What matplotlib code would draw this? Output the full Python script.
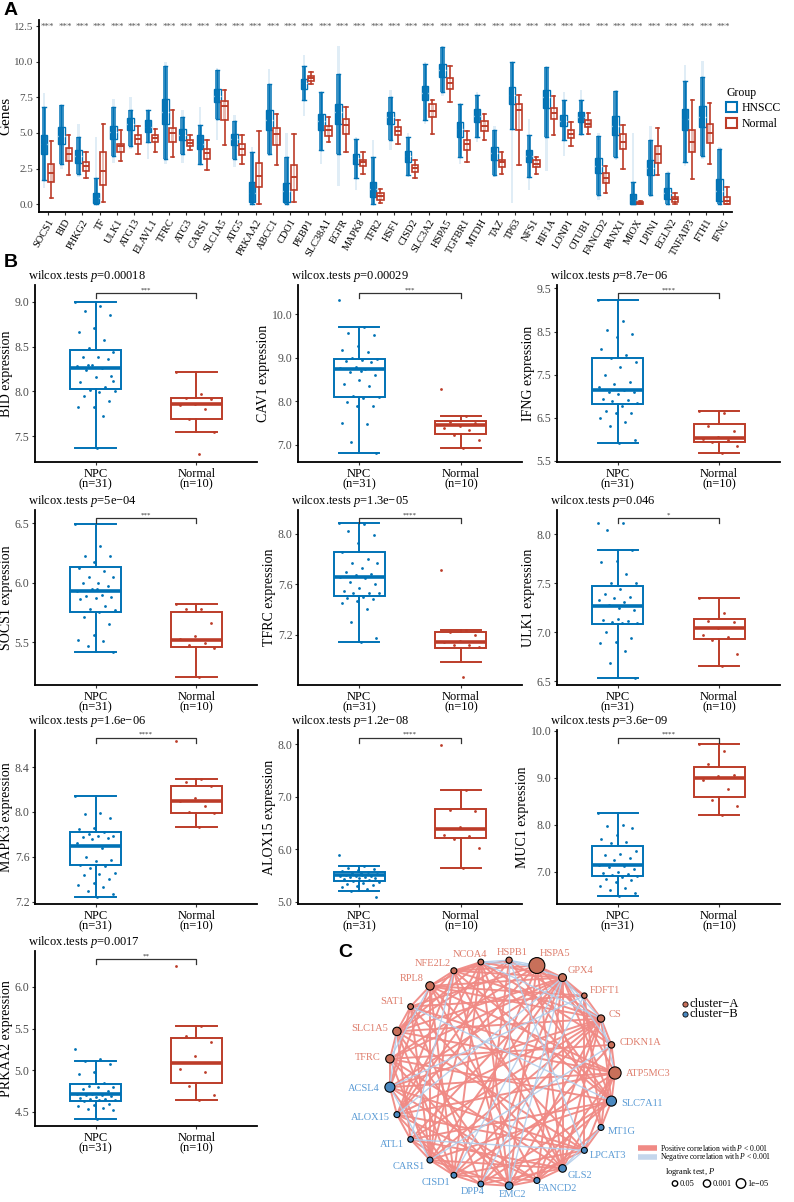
import matplotlib
matplotlib.use("Agg")
import matplotlib.pyplot as plt
import numpy as np
from matplotlib.patches import Patch

plt.rcParams['font.family'] = ['Liberation Serif', 'DejaVu Serif']
plt.rcParams['mathtext.fontset'] = 'custom'
plt.rcParams['mathtext.rm'] = 'Liberation Serif'
plt.rcParams['mathtext.it'] = 'Liberation Serif:italic'

BLUE = "#0072B5"
RED = "#BC3C29"
GRAY = "#4D4D4D"

# ---------------------------------------------------------------
# Panel A data (HNSCC vs Normal, box summaries)
# ---------------------------------------------------------------
genes = ["SOCS1", "BID", "PHKG2", "TF", "ULK1", "ATG13", "ELAVL1", "TFRC", "ATG3", "CARS1",
         "SLC1A5", "ATG5", "PRKAA2", "ABCC1", "CDO1", "PEBP1", "SLC38A1", "EGFR", "MAPK8", "TFR2",
         "HSF1", "CISD2", "SLC3A2", "HSPA5", "TGFBR1", "MTDH", "TAZ", "TP63", "NFS1", "HIF1A",
         "LONP1", "OTUB1", "FANCD2", "PANX1", "MIOX", "LPIN1", "EGLN2", "TNFAIP3", "FTH1", "IFNG"]

hnscc_wlo = [1.7, 2.8, 2.1, 0.0, 3.4, 4.1, 4.4, 3.2, 3.55, 2.85, 6.0, 3.2, 0.0, 3.55, 0.0, 7.3, 3.78, 3.55, 1.8, 0.0,
             4.49, 2.03, 5.89, 7.87, 3.32, 4.72, 2.03, 5.3, 1.92, 4.72, 4.49, 4.95, 0.63, 3.32, 0.0, 0.63, 0.0, 2.97, 3.36, 0.0]
hnscc_q1 = [3.55, 4.25, 2.92, 0.05, 4.6, 5.19, 5.07, 5.65, 4.49, 3.9, 7.17, 4.14, 0.16, 5.19, 0.16, 8.1, 5.23, 5.65, 2.85, 0.51,
            5.65, 2.97, 7.29, 8.93, 4.72, 5.77, 3.08, 7.06, 2.97, 6.78, 5.47, 5.77, 2.15, 4.84, 0.0, 2.03, 0.35, 5.19, 5.42, 0.23]
hnscc_med = [4.2, 4.8, 3.4, 0.4, 5.05, 5.6, 5.45, 6.5, 4.85, 4.25, 7.6, 4.6, 0.8, 5.9, 0.9, 8.5, 5.85, 6.5, 3.25, 1.05,
             6.1, 3.4, 7.8, 9.4, 5.3, 6.2, 3.6, 7.7, 3.4, 7.5, 5.85, 6.1, 2.7, 5.5, 0.3, 2.55, 0.75, 5.95, 6.1, 0.95]
hnscc_q3 = [4.88, 5.42, 3.78, 0.75, 5.47, 6.05, 5.93, 7.36, 5.3, 4.84, 8.1, 4.9, 1.57, 6.59, 1.5, 8.81, 6.36, 7.06, 3.55, 1.57,
            6.47, 3.74, 8.34, 9.86, 5.77, 6.7, 4.02, 8.22, 3.78, 7.99, 6.24, 6.47, 3.27, 6.17, 0.68, 3.08, 1.14, 6.7, 6.92, 1.73]
hnscc_whi = [6.8, 7.0, 4.7, 1.8, 6.8, 6.6, 6.6, 9.74, 6.12, 5.54, 9.46, 5.84, 3.67, 8.46, 3.32, 9.74, 7.87, 9.16, 4.6, 3.32,
             7.52, 4.72, 9.86, 11.03, 7.06, 7.64, 5.19, 9.98, 4.84, 9.63, 7.29, 7.29, 4.77, 7.94, 1.57, 4.49, 2.15, 8.69, 8.97, 3.9]
hnscc_min = [1.1, 2.5, 1.9, 0.0, 2.9, 3.9, 3.2, 2.8, 2.9, 2.8, 4.5, 2.6, 0.0, 3.4, 0.0, 6.2, 2.8, 1.3, 1.0, 0.0,
             3.8, 1.9, 5.6, 7.6, 2.8, 4.4, 1.9, 0.1, 1.0, 2.3, 3.4, 4.8, 0.3, 3.1, 0.0, 0.5, 0.0, 2.7, 3.2, 0.0]
hnscc_max = [7.8, 7.0, 5.6, 4.7, 7.4, 7.5, 6.6, 10.0, 6.6, 6.8, 9.6, 6.3, 4.0, 9.5, 5.0, 10.5, 7.9, 11.1, 4.7, 4.5,
             8.0, 5.0, 10.0, 11.1, 7.1, 7.9, 5.5, 10.0, 6.0, 9.6, 7.9, 8.0, 5.0, 8.0, 5.0, 5.5, 2.3, 9.8, 10.1, 4.0]

normal_wlo = [0.4, 2.03, 1.85, 0.16, 3.01, 3.5, 3.67, 3.32, 3.78, 2.43, 4.14, 2.85, 0.0, 2.73, 0.16, 8.46, 4.37, 3.67, 2.08, 0.09,
              4.25, 1.8, 4.95, 7.17, 2.97, 4.49, 2.1, 2.78, 2.1, 4.84, 4.09, 4.95, 0.75, 2.5, 0.0, 2.03, 0.0, 1.73, 2.85, 0.0]
normal_q1 = [1.57, 3.04, 2.31, 1.33, 3.67, 4.2, 4.37, 4.37, 4.11, 3.2, 5.93, 3.43, 1.21, 4.14, 0.98, 8.69, 4.77, 4.95, 2.69, 0.28,
             4.88, 2.27, 6.12, 8.1, 3.78, 5.12, 2.62, 5.19, 2.62, 5.96, 4.67, 5.42, 1.5, 3.9, 0.0, 2.92, 0.12, 3.67, 4.3, 0.0]
normal_med = [2.2, 3.5, 2.65, 2.3, 4.05, 4.55, 4.65, 5.0, 4.3, 3.6, 6.9, 3.85, 2.0, 4.9, 1.9, 8.85, 5.2, 5.55, 2.95, 0.55,
              5.15, 2.55, 6.55, 8.5, 4.2, 5.5, 2.95, 6.6, 2.85, 6.4, 4.95, 5.65, 1.85, 4.4, 0.05, 3.55, 0.35, 4.4, 5.0, 0.2]
normal_q3 = [2.85, 3.97, 2.97, 3.67, 4.25, 4.84, 4.84, 5.35, 4.49, 3.9, 7.22, 4.2, 2.9, 5.35, 2.78, 9.02, 5.47, 6.0, 3.13, 0.75,
             5.42, 2.73, 7.01, 8.88, 4.49, 5.82, 3.13, 7.06, 3.08, 6.78, 5.19, 5.89, 2.2, 4.95, 0.14, 4.09, 0.51, 5.23, 5.65, 0.51]
normal_whi = [4.45, 4.88, 3.67, 5.65, 5.19, 5.47, 5.3, 6.59, 4.84, 4.53, 8.04, 4.84, 5.12, 6.36, 4.95, 9.28, 6.12, 6.82, 3.67, 1.03,
              5.93, 3.13, 7.34, 9.74, 5.12, 6.36, 3.67, 7.69, 3.32, 7.57, 5.77, 6.4, 2.66, 5.58, 0.23, 5.35, 0.79, 7.34, 7.1, 1.17]

# ---------------------------------------------------------------
# Panel B data (NPC n=31 vs Normal n=10)
# box = (lower whisker, Q1, median, Q3, upper whisker)
# ---------------------------------------------------------------
bid_npc_box = (7.37, 8.03, 8.26, 8.46, 9.0)
bid_npc = [9.0, 8.95, 8.9, 8.86, 8.71, 8.66, 8.58, 8.49, 8.44, 8.39, 8.38, 8.36, 8.29, 8.28, 8.26, 8.24,
           8.17, 8.16, 8.11, 8.05, 8.01, 8.0, 7.99, 7.95, 7.89, 7.82, 7.82, 7.73, 8.3, 8.12, 7.37]
bid_nor_box = (7.55, 7.69, 7.86, 7.93, 8.22)
bid_nor = [8.22, 7.97, 7.93, 7.91, 7.86, 7.85, 7.8, 7.69, 7.55, 7.3]

cav1_npc_box = (6.82, 8.10, 8.74, 8.97, 9.70)
cav1_npc = [10.33, 9.70, 9.57, 9.52, 9.27, 9.17, 9.13, 9.0, 8.98, 8.95, 8.93, 8.9, 8.78, 8.77, 8.75, 8.68,
            8.6, 8.5, 8.4, 8.35, 8.13, 8.1, 8.07, 7.98, 7.9, 7.9, 7.5, 7.48, 7.08, 6.82, 8.7]
cav1_nor_box = (6.93, 7.26, 7.45, 7.55, 7.67)
cav1_nor = [8.29, 7.67, 7.53, 7.5, 7.43, 7.38, 7.35, 7.22, 7.12, 6.93]

ifng_npc_box = (5.9, 6.81, 7.15, 7.88, 9.23)
ifng_npc = [9.23, 8.74, 8.53, 8.44, 8.38, 8.09, 7.95, 7.88, 7.8, 7.67, 7.49, 7.33, 7.29, 7.2, 7.14, 7.1,
            7.1, 7.05, 6.93, 6.92, 6.88, 6.83, 6.77, 6.66, 6.61, 6.6, 6.5, 6.41, 6.3, 5.98, 5.9]
ifng_nor_box = (5.69, 5.94, 6.02, 6.35, 6.65)
ifng_nor = [6.65, 6.61, 6.3, 6.2, 6.05, 6.0, 5.97, 5.93, 5.85, 5.69]

socs1_npc_box = (5.42, 5.75, 5.93, 6.13, 6.49)
socs1_npc = [6.49, 6.31, 6.22, 6.22, 6.17, 6.12, 6.1, 6.05, 6.05, 6.0, 6.0, 5.97, 5.95, 5.93, 5.9, 5.89,
             5.88, 5.87, 5.86, 5.8, 5.78, 5.77, 5.75, 5.71, 5.65, 5.56, 5.52, 5.51, 5.47, 5.42, 5.95]
socs1_nor_box = (5.21, 5.46, 5.52, 5.75, 5.82)
socs1_nor = [5.82, 5.78, 5.78, 5.66, 5.55, 5.53, 5.49, 5.48, 5.45, 5.21]

tfrc_npc_box = (7.14, 7.51, 7.66, 7.86, 8.09)
tfrc_npc = [8.09, 8.08, 8.02, 7.99, 7.93, 7.86, 7.8, 7.77, 7.77, 7.73, 7.7, 7.68, 7.67, 7.66, 7.65, 7.62,
            7.6, 7.57, 7.55, 7.53, 7.53, 7.53, 7.5, 7.49, 7.48, 7.47, 7.45, 7.4, 7.3, 7.17, 7.14]
tfrc_nor_box = (6.98, 7.09, 7.14, 7.22, 7.24)
tfrc_nor = [7.71, 7.24, 7.22, 7.2, 7.15, 7.14, 7.12, 7.12, 7.1, 6.86]

ulk1_npc_box = (6.53, 7.08, 7.27, 7.47, 7.84)
ulk1_npc = [8.12, 8.12, 8.05, 7.84, 7.73, 7.72, 7.6, 7.5, 7.5, 7.44, 7.39, 7.36, 7.35, 7.33, 7.31, 7.28,
            7.23, 7.14, 7.12, 7.11, 7.1, 7.09, 7.09, 7.0, 6.94, 6.9, 6.89, 6.81, 6.68, 6.53, 7.25]
ulk1_nor_box = (6.65, 6.93, 7.04, 7.13, 7.35)
ulk1_nor = [7.35, 7.2, 7.11, 7.1, 7.04, 6.97, 6.95, 6.92, 6.78, 6.65]

mapk3_npc_box = (7.24, 7.53, 7.70, 7.82, 8.14)
mapk3_npc = [8.14, 7.99, 7.98, 7.95, 7.86, 7.85, 7.82, 7.8, 7.79, 7.79, 7.78, 7.77, 7.76, 7.72, 7.68, 7.6,
             7.57, 7.56, 7.53, 7.52, 7.5, 7.46, 7.45, 7.44, 7.4, 7.37, 7.35, 7.33, 7.3, 7.27, 7.24]
mapk3_nor_box = (7.87, 7.99, 8.10, 8.23, 8.29)
mapk3_nor = [8.63, 8.29, 8.27, 8.23, 8.12, 8.1, 8.05, 8.0, 7.99, 7.87]

alox15_npc_box = (5.2, 5.40, 5.51, 5.57, 5.68)
alox15_npc = [5.89, 5.68, 5.65, 5.62, 5.6, 5.58, 5.57, 5.55, 5.53, 5.52, 5.51, 5.5, 5.5, 5.49, 5.48, 5.47,
              5.46, 5.45, 5.44, 5.42, 5.4, 5.38, 5.35, 5.34, 5.33, 5.3, 5.28, 5.25, 5.2, 5.09, 5.55]
alox15_nor_box = (5.65, 6.22, 6.38, 6.76, 7.13)
alox15_nor = [7.99, 7.13, 6.75, 6.73, 6.43, 6.28, 6.25, 6.2, 6.02, 5.65]

muc1_npc_box = (6.48, 6.9, 7.14, 7.54, 8.26)
muc1_npc = [8.26, 8.0, 7.97, 7.93, 7.78, 7.7, 7.63, 7.6, 7.45, 7.38, 7.35, 7.3, 7.25, 7.15, 7.12, 7.1,
            7.05, 7.0, 6.97, 6.95, 6.93, 6.9, 6.88, 6.85, 6.83, 6.78, 6.7, 6.65, 6.6, 6.55, 6.48]
muc1_nor_box = (8.2, 8.59, 9.0, 9.24, 9.72)
muc1_nor = [9.72, 9.57, 9.29, 9.05, 9.03, 8.96, 8.76, 8.53, 8.41, 8.2]

prkaa2_npc_box = (4.42, 4.63, 4.71, 4.84, 5.11)
prkaa2_npc = [5.25, 5.14, 5.11, 5.08, 4.98, 4.95, 4.85, 4.81, 4.8, 4.8, 4.78, 4.75, 4.72, 4.71, 4.7, 4.7,
              4.69, 4.68, 4.67, 4.66, 4.65, 4.64, 4.64, 4.63, 4.6, 4.58, 4.57, 4.55, 4.53, 4.52, 4.42]
prkaa2_nor_box = (4.64, 4.85, 5.09, 5.39, 5.53)
prkaa2_nor = [6.25, 5.53, 5.41, 5.34, 5.17, 5.02, 4.98, 4.81, 4.7, 4.64]

panel_names = ["BID", "CAV1", "IFNG", "SOCS1", "TFRC", "ULK1", "MAPK3", "ALOX15", "MUC1", "PRKAA2"]
panel_pvals = ["0.00018", "0.00029", "8.7e−06", "5e−04", "1.3e−05", "0.046", "1.6e−06", "1.2e−08", "3.6e−09", "0.0017"]
panel_signif = ["***", "***", "****", "***", "****", "*", "****", "****", "****", "**"]
panel_yticks = [[7.5, 8.0, 8.5, 9.0], [7.0, 8.0, 9.0, 10.0], [5.5, 6.5, 7.5, 8.5, 9.5], [5.5, 6.0, 6.5],
                [7.2, 7.6, 8.0], [6.5, 7.0, 7.5, 8.0], [7.2, 7.6, 8.0, 8.4], [5.0, 6.0, 7.0, 8.0],
                [7.0, 8.0, 9.0, 10.0], [4.5, 5.0, 5.5, 6.0]]
panel_ylim = [(7.21, 9.19), (6.61, 10.67), (5.47, 9.58), (5.14, 6.61), (6.80, 8.19),
              (6.46, 8.25), (7.18, 8.73), (4.96, 8.27), (6.31, 10.02), (4.33, 6.43)]
panel_data = [(bid_npc_box, bid_npc, bid_nor_box, bid_nor),
              (cav1_npc_box, cav1_npc, cav1_nor_box, cav1_nor),
              (ifng_npc_box, ifng_npc, ifng_nor_box, ifng_nor),
              (socs1_npc_box, socs1_npc, socs1_nor_box, socs1_nor),
              (tfrc_npc_box, tfrc_npc, tfrc_nor_box, tfrc_nor),
              (ulk1_npc_box, ulk1_npc, ulk1_nor_box, ulk1_nor),
              (mapk3_npc_box, mapk3_npc, mapk3_nor_box, mapk3_nor),
              (alox15_npc_box, alox15_npc, alox15_nor_box, alox15_nor),
              (muc1_npc_box, muc1_npc, muc1_nor_box, muc1_nor),
              (prkaa2_npc_box, prkaa2_npc, prkaa2_nor_box, prkaa2_nor)]

# ---------------------------------------------------------------
# Panel C data (network)
# ---------------------------------------------------------------
net_genes = ["HSPA5", "HSPB1", "NCOA4", "NFE2L2", "RPL8", "SAT1", "SLC1A5", "TFRC", "ACSL4", "ALOX15",
             "ATL1", "CARS1", "CISD1", "DPP4", "EMC2", "FANCD2", "GLS2", "LPCAT3", "MT1G", "SLC7A11",
             "ATP5MC3", "CDKN1A", "CS", "FDFT1", "GPX4"]
net_cluster = ["A", "A", "A", "A", "A", "A", "A", "A", "B", "B",
               "B", "B", "B", "B", "B", "B", "B", "B", "B", "B",
               "A", "A", "A", "A", "A"]
net_logp = [10.8, 2.0, 1.6, 1.8, 4.0, 1.6, 4.0, 4.0, 5.5, 1.8,
            1.5, 1.8, 1.6, 1.6, 3.3, 1.8, 3.3, 1.8, 1.8, 5.5,
            7.5, 2.2, 3.0, 1.3, 3.5]
# upper-triangle correlation signs: row i lists genes i+1 .. 24
net_corr = ["--+.+.+.+..+.+.+.+..+.++",
            "-+..+..+...+-..-.+..+.-",
            "++.+..+.++.+.+..+.+-.+",
            "+.+..+-+..+.+..+..+.+",
            "+.-+..++..+.+..+.+++",
            "+.+..+.+..+..-+..+.",
            "+-.+.+.+..+..+.+.+",
            "+..+..+.+..+.+..+",
            "+.-+..+.+..+.+-+",
            "+.+..+.+..+.+.-",
            "+.+..+-.+..+.+",
            "+.+.+..+.-+.+",
            "+.+.+..+.+.-",
            "+.+..+.+.-+",
            "+.+.+..+.-",
            "+.+.+.+.+",
            "--.+.+.+",
            "+.+..+.",
            "+.+.+.",
            "+.+.+",
            "+-.+",
            "+.-",
            "+-",
            "+"]
legend_pvals = [0.05, 0.001, 1e-05]
legend_plabels = ["0.05", "0.001", "1e−05"]

W, H = 794, 1202
fig = plt.figure(figsize=(W / 100, H / 100), dpi=100)


def px_axes(x0, y0, x1, y1):
    return fig.add_axes([x0 / W, 1 - y1 / H, (x1 - x0) / W, (y1 - y0) / H])


def style_axes(ax):
    for s in ['top', 'right']:
        ax.spines[s].set_visible(False)
    for s in ['left', 'bottom']:
        ax.spines[s].set_linewidth(1.3)
        ax.spines[s].set_color('black')
    ax.tick_params(axis='both', length=2.5, width=0.8, color='#333333', pad=1.5)
    ax.tick_params(axis='y', labelcolor=GRAY)


def jitter(n, width=0.4):
    return ((np.arange(n) * 0.618034) % 1 - 0.5) * width


# =========================================================
# PANEL A
# =========================================================
axA = px_axes(39, 20, 732, 212)
pos = np.arange(1, len(genes) + 1)
dodge = 0.21

h_stats = [dict(whislo=a, q1=b, med=c, q3=d, whishi=e, fliers=[])
           for a, b, c, d, e in zip(hnscc_wlo, hnscc_q1, hnscc_med, hnscc_q3, hnscc_whi)]
n_stats = [dict(whislo=a, q1=b, med=c, q3=d, whishi=e, fliers=[])
           for a, b, c, d, e in zip(normal_wlo, normal_q1, normal_med, normal_q3, normal_whi)]

axA.bxp(h_stats, positions=pos - dodge, widths=0.38, patch_artist=True, showfliers=False,
        capwidths=0.2,
        boxprops=dict(facecolor='white', edgecolor=BLUE, lw=1.0),
        medianprops=dict(color='white', lw=1.0),
        whiskerprops=dict(color=BLUE, lw=1.0), capprops=dict(color=BLUE, lw=1.0))
# dense jittered sample cloud of HNSCC
hmin = np.array(hnscc_min)
hmax = np.array(hnscc_max)
hwlo = np.array(hnscc_wlo)
hwhi = np.array(hnscc_whi)
axA.bar(pos - dodge, hmax - hmin, bottom=hmin, width=0.14, color=BLUE, alpha=0.12, lw=0, zorder=3)
axA.bar(pos - dodge, hwhi - hwlo, bottom=hwlo, width=0.26, color=BLUE, alpha=0.75, lw=0, zorder=3)
axA.bar(pos - dodge, np.array(hnscc_q3) - np.array(hnscc_q1), bottom=hnscc_q1, width=0.3,
        color=BLUE, alpha=0.9, lw=0, zorder=3)

axA.bxp(n_stats, positions=pos + dodge, widths=0.36, patch_artist=True, showfliers=False,
        capwidths=0.2,
        boxprops=dict(facecolor='white', edgecolor=RED, lw=1.2),
        medianprops=dict(color=RED, lw=1.4),
        whiskerprops=dict(color=RED, lw=1.2), capprops=dict(color=RED, lw=1.2))
axA.bar(pos + dodge, np.array(normal_q3) - np.array(normal_q1), bottom=normal_q1, width=0.14,
        color=RED, alpha=0.35, lw=0, zorder=3)

for p in pos:
    axA.text(p, 12.5, "***", ha='center', va='center', fontsize=6.5, color='#555555')

axA.set_xlim(0.5, len(genes) + 0.5)
axA.set_ylim(-0.56, 12.95)
axA.set_yticks([0, 2.5, 5, 7.5, 10, 12.5])
axA.set_yticklabels(["0.0", "2.5", "5.0", "7.5", "10.0", "12.5"], fontsize=8)
axA.set_xticks(pos)
axA.set_xticklabels(genes, rotation=60, ha='right', rotation_mode='anchor', fontsize=7.5)
axA.set_ylabel("Genes", fontsize=11, labelpad=1)
style_axes(axA)

handles = [Patch(facecolor='white', edgecolor=BLUE, lw=1.5, label='HNSCC'),
           Patch(facecolor='white', edgecolor=RED, lw=1.5, label='Normal')]
axA.legend(handles=handles, title="Group", loc='center left', bbox_to_anchor=(0.99, 0.54),
           frameon=False, fontsize=8.5, title_fontsize=8.5, handlelength=0.9, handleheight=0.9,
           handletextpad=0.4, alignment='left', labelspacing=0.3, borderpad=0.1,
           borderaxespad=0.0)

fig.text(4 / W, 1 - 2 / H, "A", fontsize=14, fontweight='bold', family='Liberation Sans',
         ha='left', va='top')

# =========================================================
# PANEL B
# =========================================================
cols = [(35, 257), (298, 522), (557, 780)]
rows = [(285, 462), (510, 685), (730, 904), (951, 1126)]

for k, name in enumerate(panel_names):
    r, c = divmod(k, 3)
    ax = px_axes(cols[c][0], rows[r][0], cols[c][1], rows[r][1])
    npc_box, npc_pts, nor_box, nor_pts = panel_data[k]
    for x, bx, pts, colr in [(1, npc_box, npc_pts, BLUE), (2, nor_box, nor_pts, RED)]:
        st = dict(whislo=bx[0], q1=bx[1], med=bx[2], q3=bx[3], whishi=bx[4], fliers=[])
        ax.bxp([st], positions=[x], widths=0.5, patch_artist=True, showfliers=False, capwidths=0.4,
               boxprops=dict(facecolor='white', edgecolor=colr, lw=1.4),
               medianprops=dict(color=colr, lw=2.6),
               whiskerprops=dict(color=colr, lw=1.4), capprops=dict(color=colr, lw=1.4))
        ax.scatter(x + jitter(len(pts)), pts, s=4, color=colr, lw=0, zorder=4)

    y0, y1 = panel_ylim[k]
    ax.set_ylim(y0, y1)
    ax.set_xlim(0.4, 2.6)
    yb = y0 + 0.955 * (y1 - y0)
    tip = 0.03 * (y1 - y0)
    ax.plot([1, 1, 2, 2], [yb - tip, yb, yb, yb - tip], color='#333333', lw=0.9, clip_on=False)
    ax.text(1.5, yb + 0.004 * (y1 - y0), panel_signif[k], ha='center', va='bottom', fontsize=5,
            color='#333333')

    ax.set_yticks(panel_yticks[k])
    ax.set_yticklabels([f"{v:.1f}" for v in panel_yticks[k]], fontsize=8.5)
    ax.set_xticks([1, 2])
    ax.set_xticklabels(["NPC\n(n=31)", "Normal\n(n=10)"], fontsize=9, linespacing=0.85)
    ax.set_ylabel(f"{name} expression", fontsize=10, labelpad=1)
    style_axes(ax)
    ax.text(-0.03, 1.005, f"wilcox.tests $p$={panel_pvals[k]}", transform=ax.transAxes,
            ha='left', va='bottom', fontsize=9)

fig.text(4 / W, 1 - 254 / H, "B", fontsize=14, fontweight='bold', family='Liberation Sans',
         ha='left', va='top')

# =========================================================
# PANEL C  (drawn in figure pixel coordinates)
# =========================================================
axC = fig.add_axes([0, 0, 1, 1])
axC.set_xlim(0, W)
axC.set_ylim(H, 0)
axC.axis('off')
axC.patch.set_alpha(0)

cx, cy, R = 502, 1073, 113
n_net = len(net_genes)
ang = np.deg2rad(72 + 360.0 / n_net * np.arange(n_net))
nx = cx + R * np.cos(ang)
ny = cy - R * np.sin(ang)

POS_C = "#F08A85"
NEG_C = "#B3CDEA"
CL_A_NODE, CL_B_NODE = "#C8705A", "#4A89C0"
CL_A_TXT, CL_B_TXT = "#DE7D6C", "#5A9BD5"

pos_edges, neg_edges = [], []
for i, rowstr in enumerate(net_corr):
    for off, ch in enumerate(rowstr):
        j = i + 1 + off
        if ch == '+':
            pos_edges.append((i, j))
        elif ch == '-':
            neg_edges.append((i, j))

for i, j in pos_edges:
    axC.plot([nx[i], nx[j]], [ny[i], ny[j]], color=POS_C, lw=1.4, alpha=0.95, zorder=1,
             solid_capstyle='round')
for i, j in neg_edges:
    axC.plot([nx[i], nx[j]], [ny[i], ny[j]], color=NEG_C, lw=1.0, alpha=0.9, zorder=2)


def node_radius(logp):
    return 2.0 + 0.55 * np.asarray(logp)


def rad_to_s(r_px):
    return (2 * r_px * 0.72) ** 2


node_r = node_radius(net_logp)
node_cols = [CL_A_NODE if c == "A" else CL_B_NODE for c in net_cluster]
axC.scatter(nx, ny, s=rad_to_s(node_r), c=node_cols, edgecolors='black',
            linewidths=0.8, zorder=5)

renderer = fig.canvas.get_renderer()
for i, g in enumerate(net_genes):
    a = ang[i]
    lab_r = R + 5 + node_r[i]
    axp = cx + lab_r * np.cos(a)
    ayp = cy - lab_r * np.sin(a)
    t = axC.text(axp, ayp, g, fontsize=7.5, ha='left', va='center', zorder=6,
                 color=CL_A_TXT if net_cluster[i] == "A" else CL_B_TXT)
    bb = t.get_window_extent(renderer=renderer)
    hj = np.clip(0.5 - 1.5 * np.cos(a), 0, 1)
    t.set_position((axp - hj * bb.width, ayp))

# cluster legend
for yy, lab, colr in [(1004, "cluster−A", CL_A_NODE), (1014, "cluster−B", CL_B_NODE)]:
    axC.scatter([685], [yy], s=rad_to_s(2.6), color=colr, edgecolors='black', linewidths=0.6)
    axC.text(690, yy, lab, fontsize=9, va='center', ha='left')

# edge legend
for yy, colr, lab in [(1148, POS_C, "Positive correlation with $P$ < 0.001"),
                      (1157, "#C4D6EC", "Negative correlation with $P$ < 0.001")]:
    axC.plot([638, 657], [yy, yy], color=colr, lw=4, solid_capstyle='butt')
    axC.text(660, yy, lab, fontsize=5.5, va='center', ha='left')

axC.text(665, 1172.5, "logrank test, $P$", fontsize=6, va='center', ha='left')
lx = [675, 707, 741]
lr = node_radius(-np.log10(legend_pvals))
axC.scatter(lx, [1183.5] * 3, s=rad_to_s(lr), facecolors='white', edgecolors='black', linewidths=1.0)
for x, rr, lab in zip(lx, lr, legend_plabels):
    axC.text(x + rr + 2, 1183.5, lab, fontsize=6, va='center', ha='left')

fig.text(338 / W, 1 - 944 / H, "C", fontsize=14, fontweight='bold', family='Liberation Sans',
         ha='left', va='top')

fig.savefig("out.png", dpi=100)
